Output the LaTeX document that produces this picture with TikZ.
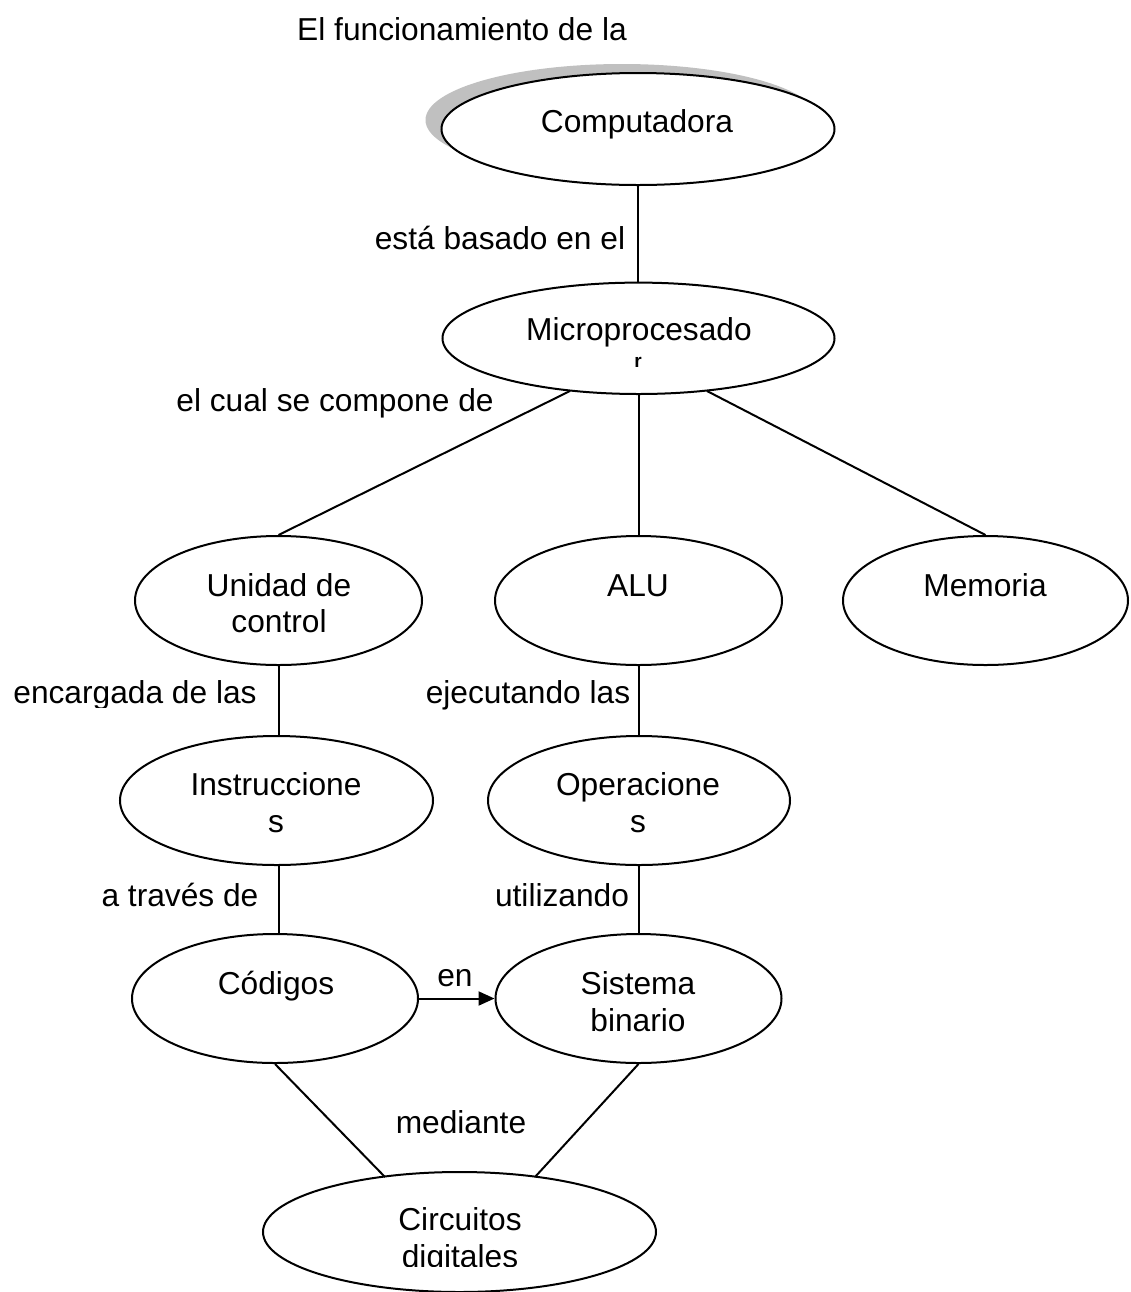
\documentclass[tikz,border=0pt]{standalone}
\usepackage{fontspec}
\setmainfont{Liberation Sans}
\usetikzlibrary{shapes.geometric,arrows.meta}
\definecolor{shadowgray}{RGB}{192,192,192}
\begin{document}
\begin{tikzpicture}[x=0.5pt,y=-0.5pt,
  concept/.style={draw,ellipse,line width=1pt,inner sep=0pt,fill=white},
  txt/.style={inner sep=0pt,anchor=base,font=\fontsize{15.85}{19}\selectfont},
  link/.style={line width=1pt}]
\useasboundingbox (0,0) rectangle (1131,1292);
\clip (0,0) rectangle (1131,1292);

% title
\node[txt] (title) at (462,40) {El funcionamiento de la};

% concept ellipses
\node[concept,draw=none,fill=shadowgray,minimum width=196.5pt,minimum height=56pt] (compshadow) at (622,120) {};
\node[concept,minimum width=196.5pt,minimum height=56pt] (comp) at (638,129) {};
\node[concept,minimum width=196pt,minimum height=55.7pt] (micro) at (638.5,338.3) {};
\node[concept,minimum width=143.5pt,minimum height=64.5pt] (unidad) at (278.5,600.5) {};
\node[concept,minimum width=143.5pt,minimum height=64.5pt] (alu) at (638.5,600.5) {};
\node[concept,minimum width=142.5pt,minimum height=64.5pt] (memoria) at (985.5,600.5) {};
\node[concept,minimum width=156.5pt,minimum height=64.5pt] (instr) at (276.5,800.5) {};
\node[concept,minimum width=151pt,minimum height=64.5pt] (oper) at (639,800.5) {};
\node[concept,minimum width=143pt,minimum height=64.5pt] (codigos) at (275,998.5) {};
\node[concept,minimum width=143pt,minimum height=64.5pt] (sistema) at (638.5,998.5) {};
\node[concept,minimum width=196.5pt,minimum height=60pt] (circ) at (459.5,1232) {};

% texts inside the ellipses
\node[txt] (tcomp) at (637,132) {Computadora};
\node[txt] (tmicro) at (639,340) {Microprocesado};
\node[inner sep=0pt,anchor=base,font=\fontsize{9.5}{11}\selectfont\bfseries] (tmicror) at (638,367) {r};
\node[txt] (tunidad1) at (279,596) {Unidad de};
\node[txt] (tunidad2) at (279,632) {control};
\node[txt] (talu) at (638,596) {ALU};
\node[txt] (tmemoria) at (985,596) {Memoria};
\node[txt] (tinstr1) at (276,795) {Instruccione};
\node[txt] (tinstr2) at (276,832) {s};
\node[txt] (toper1) at (638,795) {Operacione};
\node[txt] (toper2) at (638,832) {s};
\node[txt] (tcodigos) at (276,994) {Códigos};
\node[txt] (tsist1) at (638,994) {Sistema};
\node[txt] (tsist2) at (638,1031) {binario};
\node[txt] (tcirc1) at (460,1230) {Circuitos};
\begin{scope}
  \clip (300,1200) rectangle (620,1266);
  \node[txt] (tcirc2) at (460,1267) {digitales};
\end{scope}

% connector labels
\node[txt] (lbasado) at (500,249) {está basado en el};
\node[txt] (lcompone) at (335,411) {el cual se compone de};
\begin{scope}
  \clip (0,660) rectangle (270,707);
  \node[txt] (lencarg) at (135,703) {encargada de las};
\end{scope}
\node[txt] (lejec) at (528,703) {ejecutando las};
\node[txt] (ltraves) at (180,906) {a través de};
\node[txt] (lutil) at (562,906) {utilizando};
\node[txt] (len) at (455,986) {en};
\node[txt] (lmediante) at (461,1133) {mediante};

% attachment points on the ellipse borders
\coordinate (mL) at (570,391);
\coordinate (mR) at (707,391);
\coordinate (cL) at (385,1177);
\coordinate (cR) at (535,1177);

% connectors
\draw[link] (comp.south) -- (micro.north -| comp.south);
\draw[link] (mL) -- (unidad.north);
\draw[link] (micro.south) -- (alu.north);
\draw[link] (mR) -- (memoria.north);
\draw[link] (unidad.south) -- (instr.north -| unidad.south);
\draw[link] (alu.south) -- (oper.north -| alu.south);
\draw[link] (instr.south -| unidad.south) -- (codigos.north -| unidad.south);
\draw[link] (oper.south -| alu.south) -- (sistema.north -| alu.south);
\draw[link,-{Triangle[length=8pt,width=7pt]}] (codigos.east) -- (sistema.west);
\draw[link] (codigos.south) -- (cL);
\draw[link] (sistema.south) -- (cR);
\end{tikzpicture}
\end{document}
